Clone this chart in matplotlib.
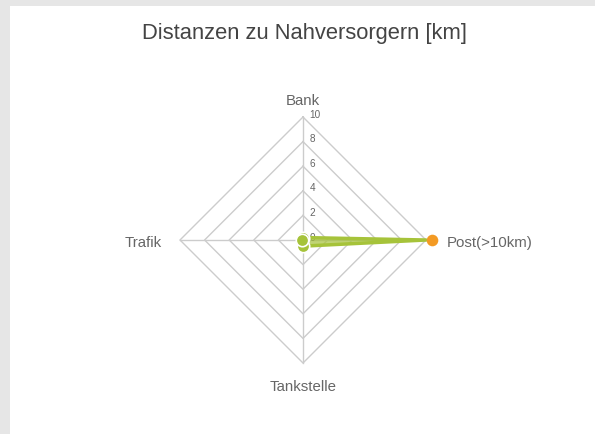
import matplotlib.pyplot as plt
from matplotlib.patches import Rectangle
import numpy as np

plt.rcParams['font.family'] = ['Liberation Sans', 'DejaVu Sans']

# data
categories = ['Bank', 'Post(>10km)', 'Tankstelle', 'Trafik']
values = [0.2, 10, 0.5, 0.1]
# the Post value is above 10 km, marked beyond the scale
post_marker = 10.5
rings = [2, 4, 6, 8, 10]
tick_labels = ['0', '2', '4', '6', '8', '10']

green = '#a6c33a'
orange = '#f39a24'
grid = '#cccccc'
txt = '#666666'

fig = plt.figure(figsize=(5.95, 4.34), dpi=100)
fig.patch.set_facecolor('#e6e6e6')
fig.patches.append(Rectangle((10/595, 0), 1, 1 - 6/434, transform=fig.transFigure,
                             facecolor='white', edgecolor='none', zorder=-10))

# one data unit = 12.3 px, center at (303, 240) px
sc = 12.3
ax = fig.add_axes([(303-160)/595, (194-150)/434, 320/595, 300/434])
ax.set_xlim(-160/sc, 160/sc)
ax.set_ylim(-150/sc, 150/sc)
ax.axis('off')

n = len(categories)
ang = np.pi/2 - np.arange(n) * 2*np.pi/n
ca, sa = np.cos(ang), np.sin(ang)

# diamond grid
for r in rings:
    ax.plot(np.append(r*ca, r*ca[0]), np.append(r*sa, r*sa[0]), color=grid, lw=1, zorder=1)
for i in range(n):
    ax.plot([0, rings[-1]*ca[i]], [0, rings[-1]*sa[i]], color=grid, lw=1, zorder=1)

# scale labels on the Bank spoke
for i, t in enumerate(tick_labels):
    ax.text(0.55, i*2 + 0.2, t, fontsize=7.2, color=txt, ha='left', va='center', zorder=2)

# category labels
pads = [0.7, 1.7, 1.35, 1.45]
has = ['center', 'left', 'center', 'right']
vas = ['bottom', 'center', 'top', 'center']
for i, c in enumerate(categories):
    r = rings[-1] + pads[i]
    dy = -0.25 if vas[i] == 'center' else 0
    ax.text(r*ca[i], r*sa[i] + dy, c, fontsize=10.8, color=txt, ha=has[i], va=vas[i])

# series
v = np.array(values)
x, y = v*ca, v*sa
ax.fill(x, y, color=green, alpha=0.7, lw=0, zorder=3)
ax.plot(np.append(x, x[0]), np.append(y, y[0]), color=green, lw=2.5, zorder=4)
ax.scatter(x[[0, 2, 3]], y[[0, 2, 3]], s=80, color=green, edgecolor='white', lw=1.2, zorder=5)
ax.scatter([post_marker*ca[1]], [post_marker*sa[1]], s=70, color=orange, lw=0, zorder=6, clip_on=False)

fig.text(305/595, 1 - 33/434, 'Distanzen zu Nahversorgern [km]', fontsize=15.8,
         color='#444444', ha='center', va='center')

fig.savefig('out.png', dpi=100, facecolor=fig.get_facecolor())
